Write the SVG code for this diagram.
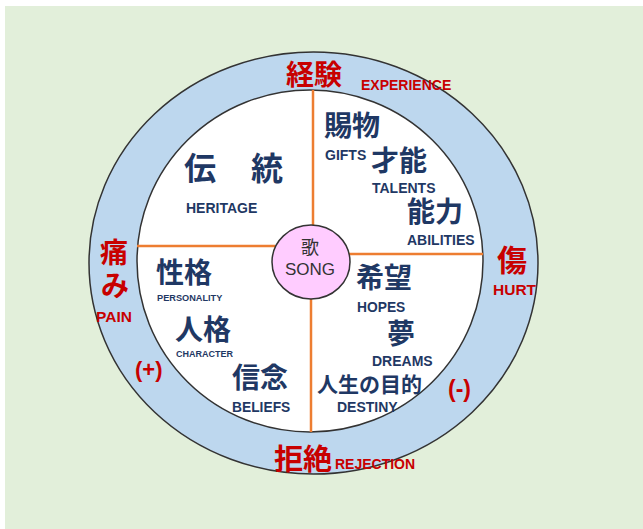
<svg xmlns="http://www.w3.org/2000/svg" width="643" height="529" viewBox="0 0 643 529">
  <style>
    .jpn { font-family: "Noto Sans CJK JP", "Noto Sans CJK SC", sans-serif; font-weight: 700; fill: #1f3864; }
    .en { font-family: "Liberation Sans", Arial, sans-serif; font-weight: 700; fill: #1f3864; }
    .jpr { font-family: "Noto Sans CJK JP", "Noto Sans CJK SC", sans-serif; font-weight: 700; fill: #c80000; }
    .enr { font-family: "Liberation Sans", Arial, sans-serif; font-weight: 700; fill: #c80000; }
    .conn { stroke: #ed7d31; stroke-width: 2.5; fill: none; }
  </style>
  <rect x="0" y="0" width="643" height="529" fill="#ffffff"/>
  <rect x="5" y="6" width="638" height="523" fill="#e2efda"/>

  <g id="outer-ring">
    <ellipse cx="313.5" cy="263" rx="224.5" ry="211" fill="#bdd7ee" stroke="#333333" stroke-width="1.5"/>
  </g>
  <g id="inner-circle">
    <ellipse cx="310" cy="261" rx="173" ry="171" fill="#ffffff" stroke="#333333" stroke-width="1.5"/>
  </g>

  <g id="connectors">
    <line class="conn" x1="313" y1="90" x2="313" y2="225"/>
    <line class="conn" x1="311" y1="299" x2="311" y2="432"/>
    <line class="conn" x1="137" y1="246" x2="275" y2="246"/>
    <line class="conn" x1="349" y1="254" x2="483" y2="254"/>
  </g>

  <g id="song">
    <ellipse cx="311" cy="262" rx="39" ry="37" fill="#ffccff" stroke="#333333" stroke-width="1.5"/>
    <text x="310" y="254" text-anchor="middle" font-family="'Noto Sans CJK JP', sans-serif" font-size="18" fill="#333333">歌</text>
    <text x="310" y="275" text-anchor="middle" font-family="'Liberation Sans', Arial, sans-serif" font-size="17" fill="#333333">SONG</text>
  </g>

  <g id="experience">
    <text class="jpr" x="286" y="85" font-size="28">経験</text>
    <text class="enr" x="361" y="90" font-size="14">EXPERIENCE</text>
  </g>
  <g id="pain">
    <text class="jpr" x="100" y="263" font-size="28">痛</text>
    <text class="jpr" x="101" y="296" font-size="28">み</text>
    <text class="enr" x="96" y="322" font-size="15.5">PAIN</text>
  </g>
  <g id="hurt">
    <text class="jpr" x="497" y="271" font-size="30">傷</text>
    <text class="enr" x="493" y="295" font-size="15.5">HURT</text>
  </g>
  <g id="rejection">
    <text class="jpr" x="274" y="470" font-size="29">拒絶</text>
    <text class="enr" x="335" y="469" font-size="14">REJECTION</text>
  </g>
  <g id="plus">
    <text class="enr" x="135" y="377" font-size="22">(+)</text>
  </g>
  <g id="minus">
    <text class="enr" x="448" y="397" font-size="23">(-)</text>
  </g>

  <g id="heritage">
    <text class="jpn" x="184 218 251" y="180" font-size="32">伝　統</text>
    <text class="en" x="186" y="213" font-size="14">HERITAGE</text>
  </g>
  <g id="gifts">
    <text class="jpn" x="324" y="136" font-size="28">賜物</text>
    <text class="en" x="325" y="160" font-size="14">GIFTS</text>
  </g>
  <g id="talents">
    <text class="jpn" x="371" y="171" font-size="28">才能</text>
    <text class="en" x="372" y="193" font-size="14">TALENTS</text>
  </g>
  <g id="abilities">
    <text class="jpn" x="407" y="222" font-size="28">能力</text>
    <text class="en" x="407" y="245" font-size="14">ABILITIES</text>
  </g>
  <g id="personality">
    <text class="jpn" x="156" y="283" font-size="28">性格</text>
    <text class="en" x="157" y="301" font-size="9.2">PERSONALITY</text>
  </g>
  <g id="character">
    <text class="jpn" x="175" y="340" font-size="28">人格</text>
    <text class="en" x="176" y="357" font-size="9">CHARACTER</text>
  </g>
  <g id="beliefs">
    <text class="jpn" x="232" y="388" font-size="28">信念</text>
    <text class="en" x="232" y="412" font-size="13.8">BELIEFS</text>
  </g>
  <g id="hopes">
    <text class="jpn" x="356" y="288" font-size="28">希望</text>
    <text class="en" x="357" y="312" font-size="13.8">HOPES</text>
  </g>
  <g id="dreams">
    <text class="jpn" x="387" y="344" font-size="28">夢</text>
    <text class="en" x="372" y="366" font-size="14">DREAMS</text>
  </g>
  <g id="destiny">
    <text class="jpn" x="317" y="392" font-size="21">人生の目的</text>
    <text class="en" x="337" y="412" font-size="14">DESTINY</text>
  </g>
</svg>
